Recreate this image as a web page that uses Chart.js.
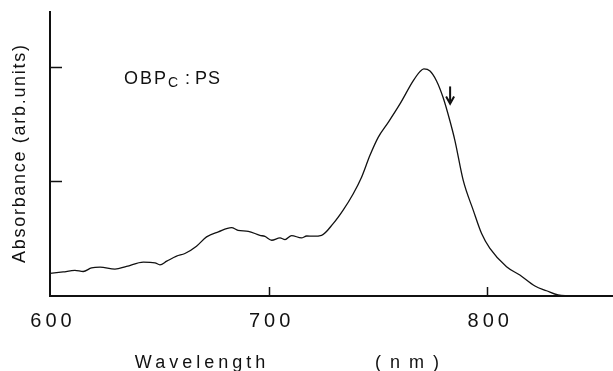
<!DOCTYPE html>
<html>
<head>
<meta charset="utf-8">
<script src="https://cdn.jsdelivr.net/npm/chart.js@4/dist/chart.umd.min.js"></script>
<style>
  html, body { margin: 0; padding: 0; background: #fff; }
  #wrap { width: 613px; height: 371px; }
</style>
</head>
<body>
<div id="wrap"><canvas id="spectrum" width="613" height="371"></canvas></div>
<script>
// absorption spectrum, OBPc in polystyrene
const wavelength = [600, 606, 611.4, 615.2, 619, 622.9, 629.7, 635, 642.7, 648, 650.3, 653.4, 657.9, 661.7,
  667, 671.6, 677, 683, 686, 690.7, 696, 698.3, 701.4, 705.2, 707.5, 710.5, 715, 717.4, 720.4, 724.2,
  729.5, 734, 738.7, 742.5, 746.3, 750.1, 754.7, 760, 766.1, 769.2, 771, 773.8, 776.8, 779.8, 782.9,
  785.2, 789, 793.6, 797.4, 801.2, 808.8, 814.9, 821.8, 827.1, 832.4, 840, 857.5];
const absorbance = [0.197, 0.21, 0.223, 0.214, 0.246, 0.252, 0.235, 0.258, 0.296, 0.29, 0.272, 0.304, 0.348, 0.371,
  0.435, 0.516, 0.56, 0.597, 0.574, 0.565, 0.53, 0.52, 0.487, 0.507, 0.493, 0.528, 0.507, 0.524, 0.522, 0.53,
  0.632, 0.748, 0.893, 1.037, 1.226, 1.385, 1.516, 1.675, 1.878, 1.959, 1.983, 1.965, 1.878, 1.733, 1.53,
  1.357, 1.009, 0.748, 0.545, 0.415, 0.255, 0.183, 0.087, 0.046, 0.009, 0, 0];

const xTickValues = [600, 700, 800];
const yTickValues = [1, 2];
const xTitle = 'Wavelength';
const xUnit = '( n m )';
const yTitle = 'Absorbance (arb.units)';

// arrow marker on the falling edge of the main band
const arrowMark = { x: 783, from: 1.83, to: 1.68 };

const ink = '#111';
const face = '"Liberation Sans", Arial, sans-serif';

// centred text that ignores the trailing letter gap
function spacedText(ctx, text, x, y, spacing) {
  ctx.letterSpacing = spacing + 'px';
  ctx.fillText(text, x + spacing / 2, y);
}

const axisDecor = {
  id: 'axisDecor',
  afterDraw(chart) {
    const ctx = chart.ctx;
    const xs = chart.scales.x, ys = chart.scales.y;
    const area = chart.chartArea;
    ctx.save();
    ctx.strokeStyle = ink;
    ctx.fillStyle = ink;
    ctx.lineWidth = 1.5;

    // inward tick marks
    xTickValues.forEach(v => {
      if (v === xs.min) return;
      const px = Math.round(xs.getPixelForValue(v)) + 0.5;
      ctx.beginPath();
      ctx.moveTo(px, area.bottom);
      ctx.lineTo(px, area.bottom - 9);
      ctx.stroke();
    });
    yTickValues.forEach(v => {
      const py = Math.round(ys.getPixelForValue(v)) + 0.5;
      ctx.beginPath();
      ctx.moveTo(area.left, py);
      ctx.lineTo(area.left + 12, py);
      ctx.stroke();
    });

    // tick labels
    ctx.font = '20px ' + face;
    ctx.textAlign = 'center';
    ctx.textBaseline = 'alphabetic';
    xTickValues.forEach(v => {
      spacedText(ctx, String(v), xs.getPixelForValue(v) + 1, 327, 4);
    });

    // axis titles
    ctx.font = '18px ' + face;
    spacedText(ctx, xTitle, 200, 368, 4);
    spacedText(ctx, xUnit, 407, 368, 2);

    ctx.save();
    ctx.translate(25, 154);
    ctx.rotate(-Math.PI / 2);
    spacedText(ctx, yTitle, 0, 0, 1.7);
    ctx.restore();

    // sample label with small-capital subscript
    ctx.textAlign = 'left';
    ctx.font = '18px ' + face;
    ctx.letterSpacing = '2px';
    ctx.fillText('OBP', 124, 84);
    ctx.font = '14px ' + face;
    ctx.letterSpacing = '0px';
    ctx.fillText('C', 168, 87);
    ctx.font = '18px ' + face;
    ctx.fillText(':', 185, 84);
    ctx.letterSpacing = '1px';
    ctx.fillText('PS', 195, 84);

    // arrow
    const ax = xs.getPixelForValue(arrowMark.x);
    const ay0 = ys.getPixelForValue(arrowMark.from);
    const ay1 = ys.getPixelForValue(arrowMark.to);
    ctx.lineWidth = 2;
    ctx.beginPath();
    ctx.moveTo(ax, ay0);
    ctx.lineTo(ax, ay1 - 2);
    ctx.stroke();
    ctx.beginPath();
    ctx.moveTo(ax - 4, ay1 - 7);
    ctx.lineTo(ax, ay1);
    ctx.lineTo(ax + 4, ay1 - 7);
    ctx.stroke();

    ctx.restore();
  }
};

const points = wavelength.map((w, i) => ({ x: w, y: absorbance[i] }));

new Chart(document.getElementById('spectrum'), {
  type: 'line',
  data: {
    datasets: [{
      data: points,
      borderColor: ink,
      borderWidth: 1.3,
      pointRadius: 0,
      fill: false,
      cubicInterpolationMode: 'monotone',
      clip: false
    }]
  },
  options: {
    responsive: false,
    animation: false,
    layout: { padding: { left: 50, top: 12, right: 0, bottom: 75 } },
    plugins: { legend: { display: false }, tooltip: { enabled: false } },
    scales: {
      x: {
        type: 'linear',
        min: 600,
        max: 857.5,
        grid: { display: false, drawTicks: false },
        border: { display: true, color: ink, width: 2 },
        ticks: { display: false, stepSize: 100 }
      },
      y: {
        type: 'linear',
        min: 0,
        max: 2.48,
        grid: { display: false, drawTicks: false },
        border: { display: true, color: ink, width: 2 },
        ticks: { display: false, stepSize: 1 }
      }
    }
  },
  plugins: [axisDecor]
});
</script>
</body>
</html>
